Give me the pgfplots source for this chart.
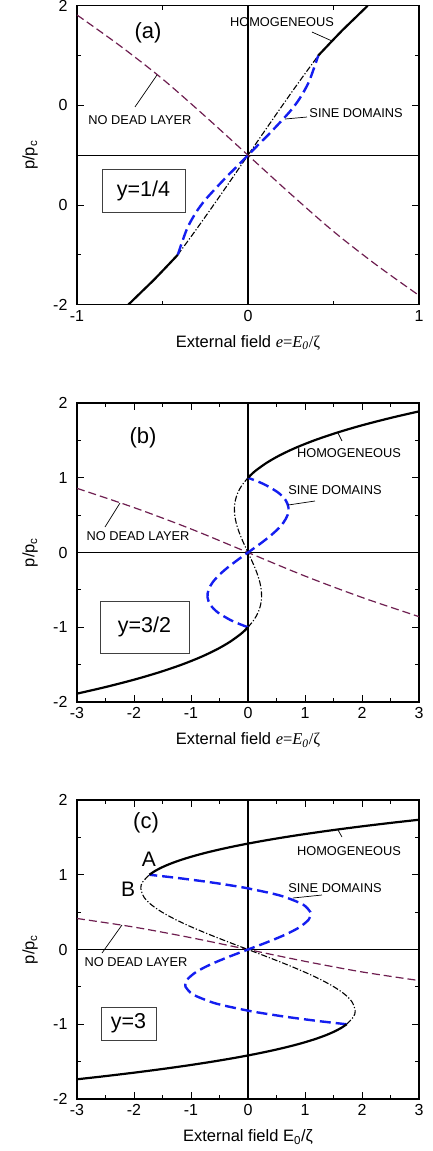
\documentclass[border=0pt]{standalone}
\usepackage{fontspec}
\setmainfont{Liberation Sans}
\newfontfamily\serif{Liberation Serif}
\usepackage{pgfplots}
\pgfplotsset{compat=1.18}
\definecolor{maroonc}{RGB}{110,30,80}
\definecolor{blueline}{RGB}{20,30,240}
\newcommand\lab{\fontsize{12.8}{14}\selectfont}
\tikzset{
  leader/.style={black, line width=0.7pt},
  ybox/.style={draw=black!75, line width=0.8pt, inner sep=0pt, font=\fontsize{21.5}{25}\selectfont},
}
\pgfplotsset{
  panel/.style={
    scale only axis, width=342pt, height=299pt,
    anchor=south west,
    axis line style={line width=1.4pt},
    tick style={line width=1pt, black},
    major tick length=7pt, minor tick length=4pt,
    tick label style={font=\fontsize{16}{18}\selectfont},
    yticklabel style={xshift=-6pt},
    xticklabel style={yshift=-2pt},
    every axis x label/.style={at={(axis description cs:0.5,-0.127)}, anchor=center, font=\fontsize{16.5}{19}\selectfont},
    every axis y label/.style={at={(axis description cs:-0.137,0.5)}, rotate=90, anchor=center, font=\fontsize{16.5}{19}\selectfont},
    clip=true,
  },
  homog/.style={black, line width=2.2pt, no marks, smooth},
  sine/.style={blueline, line width=2.4pt, dash pattern=on 11pt off 5pt, no marks, smooth},
  unst/.style={black, line width=1.1pt, dash pattern=on 6pt off 2pt on 1.2pt off 2pt, no marks, smooth},
  nodead/.style={maroonc, line width=1.2pt, dash pattern=on 8pt off 4pt, no marks, smooth},
}
\newcommand\efield{External field {\serif\itshape e}{\serif=}{\serif\itshape E\textsubscript{0}}{\serif /ζ}}
\begin{document}
\begin{tikzpicture}
\path[use as bounding box] (0,0) rectangle (432pt,-1151pt);
% ---------------- (a)
\begin{axis}[panel, at={(77pt,-304.7pt)},
  xmin=-1, xmax=1, ymin=-1.5, ymax=1.5,
  xtick={-1,0,1}, xticklabels={-1,0,1}, minor x tick num=1,
  ytick={-1.5,-0.5,0.5,1.5}, yticklabels={-2,0,0,2}, minor y tick num=1,
  xlabel={\efield}, ylabel={p/p\textsubscript{c}}]
\addplot[black, line width=1.8pt] coordinates {(0,-1.5)(0,1.5)};
\addplot[black, line width=1pt] coordinates {(-1,0)(1,0)};
\addplot[nodead] coordinates {(-1,1.407)(-0.75,1.1)(-0.5,0.765)(-0.25,0.39)(0,0)(0.25,-0.39)(0.5,-0.765)(0.75,-1.1)(1,-1.407)};
\addplot[unst] coordinates {(-0.411,-1.0)(-0.3046,-0.75)(-0.2014,-0.5)(-0.1002,-0.25)(0,0)(0.1002,0.25)(0.2014,0.5)(0.3046,0.75)(0.411,1.0)};
\addplot[sine] coordinates {(-0.411,-1.0)(-0.386,-0.875)(-0.353,-0.724)(-0.304,-0.574)(-0.246,-0.44)(-0.129,-0.223)(-0.07,-0.122)(0,0)(0.07,0.122)(0.129,0.223)(0.246,0.44)(0.304,0.574)(0.353,0.724)(0.386,0.875)(0.411,1.0)};
\addplot[homog] coordinates {(0.411,1.0)(0.48,1.125)(0.55,1.25)(0.625,1.375)(0.70,1.5)};
\addplot[homog] coordinates {(-0.411,-1.0)(-0.48,-1.125)(-0.55,-1.25)(-0.625,-1.375)(-0.70,-1.5)};
\node[font=\fontsize{22}{25}\selectfont] at (axis cs:-0.585,1.226) {(a)};
\node[font=\lab] at (axis cs:0.199,1.336) {HOMOGENEOUS};
\draw[leader] (axis cs:0.374,1.236) -- (axis cs:0.491,1.146);
\node[font=\lab] at (axis cs:0.632,0.423) {SINE DOMAINS};
\draw[leader] (axis cs:0.216,0.363) -- (axis cs:0.345,0.383);
\node[font=\lab] at (axis cs:-0.632,0.353) {NO DEAD LAYER};
\draw[leader] (axis cs:-0.661,0.484) -- (axis cs:-0.532,0.805);
\node[ybox, minimum width=83pt, minimum height=43pt] at (axis cs:-0.611,-0.354) {y=1/4};
\end{axis}
% ---------------- (b)
\begin{axis}[panel, at={(77pt,-702pt)},
  xmin=-3, xmax=3, ymin=-2, ymax=2,
  xtick={-3,-2,-1,0,1,2,3}, xticklabels={-3,-2,-1,0,1,2,3}, minor x tick num=1,
  ytick={-2,-1,0,1,2}, yticklabels={-2,-1,0,1,2}, minor y tick num=1,
  xlabel={\efield}, ylabel={p/p\textsubscript{c}}]
\addplot[black, line width=1.8pt] coordinates {(0,-2)(0,2)};
\addplot[black, line width=1pt] coordinates {(-3,0)(3,0)};
\addplot[nodead] coordinates {(-3,0.858)(-2,0.601)(-1,0.315)(0,0)(1,-0.315)(2,-0.601)(3,-0.858)};
\addplot[unst] coordinates {(0,-1)(0.106,-0.9)(0.1786,-0.8)(0.2213,-0.7)(0.2381,-0.6)(0.2325,-0.5)(0.2083,-0.4)(0.1693,-0.3)(0.119,-0.2)(0.0614,-0.1)(0,0)(-0.0614,0.1)(-0.119,0.2)(-0.1693,0.3)(-0.2083,0.4)(-0.2325,0.5)(-0.2381,0.6)(-0.2213,0.7)(-0.1786,0.8)(-0.106,0.9)(0,1)};
\addplot[sine] coordinates {(0,-1)(-0.1713,-0.95)(-0.3164,-0.9)(-0.5328,-0.8)(-0.6605,-0.7)(-0.7104,-0.6)(-0.6938,-0.5)(-0.6216,-0.4)(-0.5051,-0.3)(-0.3552,-0.2)(-0.1832,-0.1)(0,0)(0.1832,0.1)(0.3552,0.2)(0.5051,0.3)(0.6216,0.4)(0.6938,0.5)(0.7104,0.6)(0.6605,0.7)(0.5328,0.8)(0.3164,0.9)(0.1713,0.95)(0,1)};
\addplot[homog] coordinates {(0,1.0)(0.0667,1.05)(0.1432,1.1)(0.3274,1.2)(0.5561,1.3)(0.8333,1.4)(1.1625,1.5)(1.5475,1.6)(1.9921,1.7)(2.4998,1.8)(3.0,1.888)};
\addplot[homog] coordinates {(0,-1.0)(-0.0667,-1.05)(-0.1432,-1.1)(-0.3274,-1.2)(-0.5561,-1.3)(-0.8333,-1.4)(-1.1625,-1.5)(-1.5475,-1.6)(-1.9921,-1.7)(-2.4998,-1.8)(-3.0,-1.888)};
\node[font=\fontsize{22}{25}\selectfont] at (axis cs:-1.842,1.532) {(b)};
\node[font=\lab] at (axis cs:1.772,1.331) {HOMOGENEOUS};
\draw[leader] (axis cs:1.579,1.599) -- (axis cs:1.649,1.492);
\node[font=\lab] at (axis cs:1.526,0.836) {SINE DOMAINS};
\draw[leader] (axis cs:0.702,0.635) -- (axis cs:1.175,0.689);
\node[font=\lab] at (axis cs:-1.93,0.221) {NO DEAD LAYER};
\draw[leader] (axis cs:-2.509,0.341) -- (axis cs:-2.246,0.662);
\node[ybox, minimum width=89pt, minimum height=52pt] at (axis cs:-1.816,-0.997) {y=3/2};
\end{axis}
% ---------------- (c)
\begin{axis}[panel, at={(77pt,-1099pt)},
  xmin=-3, xmax=3, ymin=-2, ymax=2,
  xtick={-3,-2,-1,0,1,2,3}, xticklabels={-3,-2,-1,0,1,2,3}, minor x tick num=1,
  ytick={-2,-1,0,1,2}, yticklabels={-2,-1,0,1,2}, minor y tick num=1,
  xlabel={External field E\textsubscript{0}/ζ}, ylabel={p/p\textsubscript{c}}]
\addplot[black, line width=1.8pt] coordinates {(0,-2)(0,2)};
\addplot[black, line width=1pt] coordinates {(-3,0)(3,0)};
\addplot[nodead] coordinates {(-3,0.415)(-2,0.30)(-1,0.158)(0,0)(1,-0.158)(2,-0.30)(3,-0.415)};
\addplot[unst] coordinates {(1.7307,-1)(1.8513,-0.9)(1.8805,-0.818)(1.8245,-0.7)(1.6978,-0.6)(1.5092,-0.5)(1.2692,-0.4)(0.988,-0.3)(0.6758,-0.2)(0.3431,-0.1)(0,0)(-0.3431,0.1)(-0.6758,0.2)(-0.988,0.3)(-1.2692,0.4)(-1.5092,0.5)(-1.6978,0.6)(-1.8245,0.7)(-1.8805,0.818)(-1.8513,0.9)(-1.7307,1)};
\addplot[sine] coordinates {(1.7307,-1)(1.4357,-0.975)(1.1598,-0.95)(0.6636,-0.9)(0.2379,-0.85)(0,-0.818)(-0.4178,-0.75)(-0.6552,-0.7)(-0.9695,-0.6)(-1.0955,-0.5)(-1.1012,-0.472)(-1.0646,-0.4)(-0.9083,-0.3)(-0.6578,-0.2)(-0.3446,-0.1)(0,0)(0.3446,0.1)(0.6578,0.2)(0.9083,0.3)(1.0646,0.4)(1.1012,0.472)(1.0955,0.5)(0.9695,0.6)(0.6552,0.7)(0.4178,0.75)(0,0.818)(-0.2379,0.85)(-0.6636,0.9)(-1.1598,0.95)(-1.4357,0.975)(-1.7307,1)};
\addplot[homog] coordinates {(-1.7307,1.0)(-1.6325,1.05)(-1.5072,1.1)(-1.3536,1.15)(-1.1703,1.2)(-0.9562,1.25)(-0.7098,1.3)(-0.43,1.35)(-0.1154,1.4)(0.2353,1.45)(0.6233,1.5)(1.0499,1.55)(1.5165,1.6)(2.0242,1.65)(2.5745,1.7)(3.0,1.736)};
\addplot[homog] coordinates {(1.7307,-1.0)(1.6325,-1.05)(1.5072,-1.1)(1.3536,-1.15)(1.1703,-1.2)(0.9562,-1.25)(0.7098,-1.3)(0.43,-1.35)(0.1154,-1.4)(-0.2353,-1.45)(-0.6233,-1.5)(-1.0499,-1.55)(-1.5165,-1.6)(-2.0242,-1.65)(-2.5745,-1.7)(-3.0,-1.736)};
\node[font=\fontsize{22}{25}\selectfont] at (axis cs:-1.789,1.692) {(c)};
\node[font=\fontsize{21}{24}\selectfont] at (axis cs:-1.737,1.211) {A};
\node[font=\fontsize{21}{24}\selectfont] at (axis cs:-2.105,0.809) {B};
\node[font=\lab] at (axis cs:1.772,1.318) {HOMOGENEOUS};
\draw[leader] (axis cs:1.579,1.599) -- (axis cs:1.649,1.505);
\node[font=\lab] at (axis cs:1.526,0.823) {SINE DOMAINS};
\draw[leader] (axis cs:0.789,0.689) -- (axis cs:1.298,0.729);
\node[font=\lab] at (axis cs:-1.965,-0.167) {NO DEAD LAYER};
\draw[leader] (axis cs:-2.561,-0.047) -- (axis cs:-2.211,0.328);
\node[ybox, minimum width=55pt, minimum height=33pt] at (axis cs:-2.096,-0.99) {y=3};
\end{axis}
\end{tikzpicture}
\end{document}
